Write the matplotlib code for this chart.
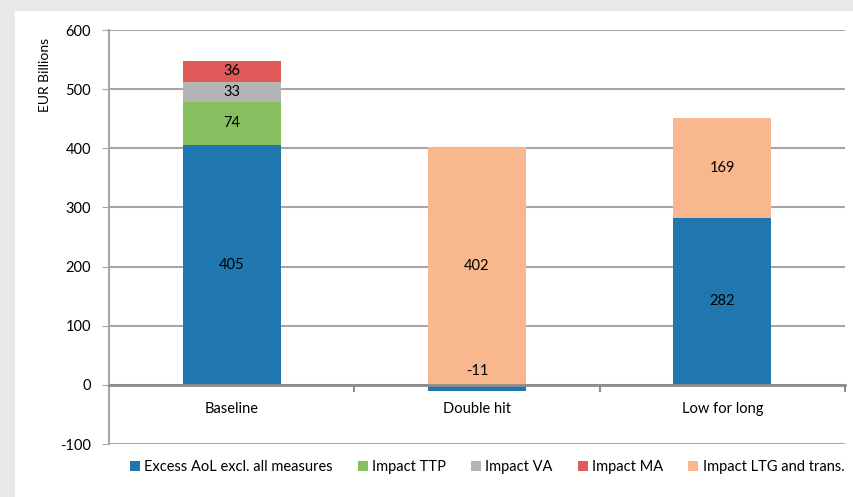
import matplotlib
matplotlib.use("Agg")
import matplotlib.pyplot as plt
from matplotlib.patches import Rectangle
import numpy as np

# data
scenarios = ["Baseline", "Double hit", "Low for long"]
series_names = ["Excess AoL excl. all measures", "Impact TTP", "Impact VA",
                "Impact MA", "Impact LTG and trans."]
excess_aol = [405, -11, 282]
impact_ttp = [74, 0, 0]
impact_va = [33, 0, 0]
impact_ma = [36, 0, 0]
impact_ltg = [0, 402, 169]
y_ticks = [-100, 0, 100, 200, 300, 400, 500, 600]

colors = ["#2077B0", "#86BF5F", "#B5B5B5", "#E05A59", "#F9B78E"]
plt.rcParams["font.family"] = ["Lato", "DejaVu Sans"]
plt.rcParams["axes.unicode_minus"] = False

W, H = 854, 497
fig = plt.figure(figsize=(W / 100, H / 100), dpi=100)
fig.patch.set_facecolor("#E8E8E8")
fig.add_artist(Rectangle((15 / W, 0), 1, 1 - 11 / H, transform=fig.transFigure,
                         facecolor="white", edgecolor="none", zorder=0))

ax = fig.add_axes([109 / W, 1 - 444 / H, (845 - 109) / W, (444 - 30) / H])
ax.set_facecolor("none")

x = np.arange(len(scenarios))
width = 0.4
pos_bottom = np.zeros(len(scenarios))
neg_bottom = np.zeros(len(scenarios))
for name, vals, c in zip(series_names,
                         [excess_aol, impact_ttp, impact_va, impact_ma, impact_ltg],
                         colors):
    vals = np.array(vals, dtype=float)
    bottoms = np.where(vals >= 0, pos_bottom, neg_bottom)
    ax.bar(x, vals, width, bottom=bottoms, color=c, label=name, zorder=3,
           linewidth=0)
    for xi, v, b in zip(x, vals, bottoms):
        if v == 0:
            continue
        if v < 0:
            ax.text(xi, 11, f"{v:.0f}", ha="center", va="bottom",
                    fontsize=10.5, zorder=5)
        else:
            ax.text(xi, b + v / 2, f"{v:.0f}", ha="center", va="center",
                    fontsize=10.5, zorder=5)
    pos_bottom = np.where(vals >= 0, pos_bottom + vals, pos_bottom)
    neg_bottom = np.where(vals < 0, neg_bottom + vals, neg_bottom)

ax.set_xlim(-0.5, len(scenarios) - 0.5)
ax.set_ylim(-100, 600)
ax.set_yticks(y_ticks)
ax.yaxis.grid(True, color="#A6A6A6", linewidth=1.5, zorder=1)
ax.tick_params(axis="y", length=5, color="#A6A6A6", labelsize=10.5, pad=8)

ax.spines["bottom"].set_position(("data", 0))
ax.spines["bottom"].set_color("#8C8C8C")
ax.spines["bottom"].set_linewidth(2)
ax.spines["bottom"].set_zorder(4)
ax.spines["left"].set_color("#A6A6A6")
ax.spines["left"].set_linewidth(1.5)
ax.spines["top"].set_visible(False)
ax.spines["right"].set_visible(False)

ax.set_xticks(x)
ax.set_xticklabels(scenarios, fontsize=10.5)
ax.set_xticks(np.arange(len(scenarios) + 1) - 0.5, minor=True)
ax.tick_params(axis="x", which="major", length=0, pad=12)
ax.tick_params(axis="x", which="minor", length=5, width=1.5, color="#8C8C8C")

fig.text(45 / W, 1 - 75 / H, "EUR Billions", rotation=90, ha="center",
         va="center", fontsize=10)

handles, labels = ax.get_legend_handles_labels()
fig.legend(handles, labels, loc="center", bbox_to_anchor=(487 / W, 1 - 467 / H),
           ncol=5, frameon=False, fontsize=10.5, handlelength=0.7,
           handleheight=0.7, handletextpad=0.3, columnspacing=1.7)

fig.savefig("out.png", dpi=100, facecolor=fig.get_facecolor())
